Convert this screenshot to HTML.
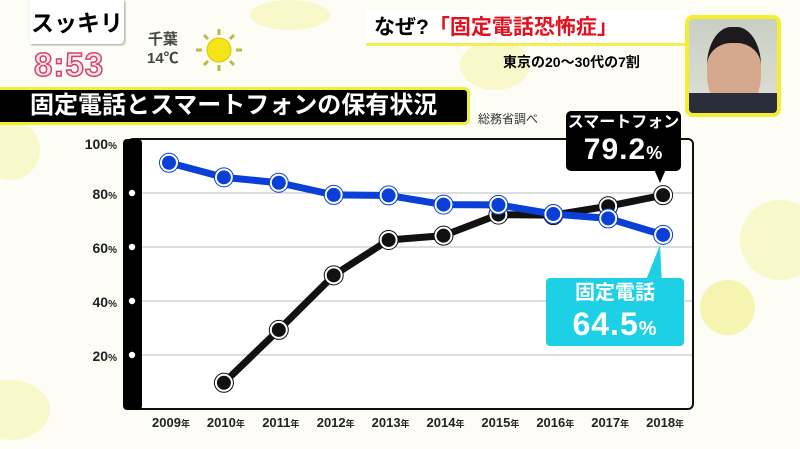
<!DOCTYPE html>
<html><head><meta charset="utf-8">
<style>
body{margin:0;width:800px;height:449px;overflow:hidden;background:#fdfdf6;font-family:"Liberation Sans","Noto Sans CJK JP",sans-serif;position:relative}
.abs{position:absolute}
.dot{position:absolute;border-radius:50%;background:#f3f3a0;opacity:.5}
</style></head><body>
<div class="dot" style="left:-20px;top:120px;width:60px;height:60px"></div>
<div class="dot" style="left:740px;top:200px;width:80px;height:80px"></div>
<div class="dot" style="left:700px;top:280px;width:55px;height:55px;opacity:.8"></div>
<div class="dot" style="left:460px;top:40px;width:70px;height:50px"></div>
<div class="dot" style="left:250px;top:0px;width:80px;height:30px"></div>
<div class="dot" style="left:-30px;top:380px;width:80px;height:60px"></div>

<div class="abs" style="left:30px;top:0;width:94px;height:44px;background:#fff;border-radius:0 0 4px 0;box-shadow:1px 1px 2px #999;font-size:23px;font-weight:bold;line-height:46px;text-align:center;white-space:nowrap">スッキリ</div>
<div class="abs" style="left:34px;top:46px;font-size:33px;font-weight:bold;color:#fde6ec;-webkit-text-stroke:1.5px #d8406a;line-height:38px;letter-spacing:1px">8:53</div>
<div class="abs" style="left:147px;top:30px;font-size:15px;font-weight:bold;color:#444;text-align:center;line-height:19px">千葉<br>14℃</div>
<svg class="abs" style="left:196px;top:28px" width="50" height="44"><circle cx="23" cy="22" r="12" fill="#f5e41a" stroke="#d8c900"/><g stroke="#b9b84a" stroke-width="3"><line x1="23" y1="1" x2="23" y2="7"/><line x1="23" y1="37" x2="23" y2="43"/><line x1="0" y1="22" x2="6" y2="22"/><line x1="40" y1="22" x2="46" y2="22"/><line x1="8" y1="7" x2="12" y2="11"/><line x1="38" y1="7" x2="34" y2="11"/><line x1="8" y1="37" x2="12" y2="33"/><line x1="38" y1="37" x2="34" y2="33"/></g></svg>

<div class="abs" style="left:366px;top:10px;width:322px;height:36px;background:#fff;border-bottom:3px solid #f3ef50;font-size:21px;font-weight:bold;line-height:36px;padding-left:8px;box-sizing:border-box">なぜ?<span style="color:#e3111e">「固定電話恐怖症」</span></div>
<div class="abs" style="left:503px;top:52px;font-size:14px;font-weight:bold">東京の20〜30代の7割</div>
<div class="abs" style="left:685px;top:15px;width:88px;height:94px;border:4px solid #f3ef30;border-radius:8px;background:linear-gradient(#c9cfc4,#e0e0d6);overflow:hidden">
<div style="position:absolute;left:18px;top:8px;width:54px;height:70px;border-radius:45%;background:#d6a88e;border-top:16px solid #1c1a1c"></div>
<div style="position:absolute;left:0;top:74px;width:88px;height:24px;background:#2a2d3a"></div></div>

<div class="abs" style="left:0;top:87px;width:470px;height:38px;background:#000;border:3px solid #f3ef30;border-left:none;box-sizing:border-box;color:#fff;font-size:24px;font-weight:bold;line-height:32px;padding-left:30px;border-radius:0 6px 6px 0">固定電話とスマートフォンの保有状況</div>
<div class="abs" style="left:478px;top:110px;font-size:12px;color:#333">総務省調べ</div>

<svg class="abs" style="left:0;top:0" width="800" height="449">
<g id="chart"></g>
</svg>

<div class="abs" style="left:566px;top:111px;width:115px;height:60px;background:#000;border-radius:5px;color:#fff;text-align:center;font-weight:bold">
<div style="font-size:16px;line-height:24px">スマートフォン</div><div style="font-size:30px;line-height:30px;letter-spacing:1px">79.2<span style="font-size:18px">%</span></div>
<div style="position:absolute;left:88px;top:58px;width:0;height:0;border-left:6px solid transparent;border-right:6px solid transparent;border-top:14px solid #000"></div></div>
<svg class="abs" style="left:640px;top:245px" width="30" height="40"><polygon points="4,40 22,40 20,0" fill="#1ed0e6"/></svg>
<div class="abs" style="left:546px;top:278px;width:138px;height:68px;background:#1ed0e6;border-radius:4px;color:#fff;text-align:center;font-weight:bold">
<div style="font-size:20px;line-height:30px">固定電話</div><div style="font-size:32px;line-height:32px;letter-spacing:1px">64.5<span style="font-size:20px">%</span></div></div>

<script>
const years=["2009","2010","2011","2012","2013","2014","2015","2016","2017","2018"];
const landline=[91.2,85.8,83.8,79.3,79.1,75.7,75.6,72.2,70.6,64.5];
const smartphone=[null,9.7,29.3,49.5,62.6,64.2,72.0,71.8,75.1,79.2];
const yTicks=[100,80,60,40,20];
const NS="http://www.w3.org/2000/svg";
const g=document.getElementById('chart');
const X0=169,XSTEP=54.9,Y0=409,YS=2.7;
const x=i=>X0+i*XSTEP, y=v=>Y0-v*YS;
function mk(t,a){const e=document.createElementNS(NS,t);for(const k in a)e.setAttribute(k,a[k]);g.appendChild(e);return e;}
let f=mk('rect',{x:128,y:139,width:565,height:270,rx:5,fill:'#fff',stroke:'#111','stroke-width':2});


let ax=mk('rect',{x:123,y:139,width:19,height:271,rx:4,fill:'#000'});


yTicks.forEach(v=>{
 if(v<100){let l=mk('line',{x1:142,x2:692,y1:y(v),y2:y(v),stroke:'#bbb','stroke-width':1});
 
 
 let d=mk('circle',{cx:132,cy:y(v),r:3.2,fill:'#fff'});
 
 }
 let t=mk('text',{x:117,y:y(v)+(v==100?10:6),'text-anchor':'end','font-size':14,'font-weight':'bold',fill:'#222'});
 
 
 t.innerHTML=v+'<tspan font-size="10">%</tspan>';
});
years.forEach((yr,i)=>{
 let t=mk('text',{x:x(i)+2,y:427,'text-anchor':'middle','font-size':13,'font-weight':'bold',fill:'#222'});
 
 
 t.innerHTML=yr+'<tspan font-size="9">年</tspan>';
});
function series(data,col,name){
 const pts=data.map((v,i)=>v==null?null:[x(i),y(v)]).filter(p=>p);
 let p=mk('polyline',{points:pts.map(p=>p.join(',')).join(' '),fill:'none',stroke:col,'stroke-width':7,'stroke-linejoin':'round'});
 
 
 pts.forEach(q=>{
  let c=mk('circle',{cx:q[0],cy:q[1],r:8,fill:col,stroke:'#fff','stroke-width':2});
  
  
  mk('circle',{cx:q[0],cy:q[1],r:9.5,fill:'none',stroke:col,'stroke-width':1});
 });
}
series(smartphone,'#111','smartphone');
series(landline,'#0a3fd8','landline');
</script>
</body></html>
